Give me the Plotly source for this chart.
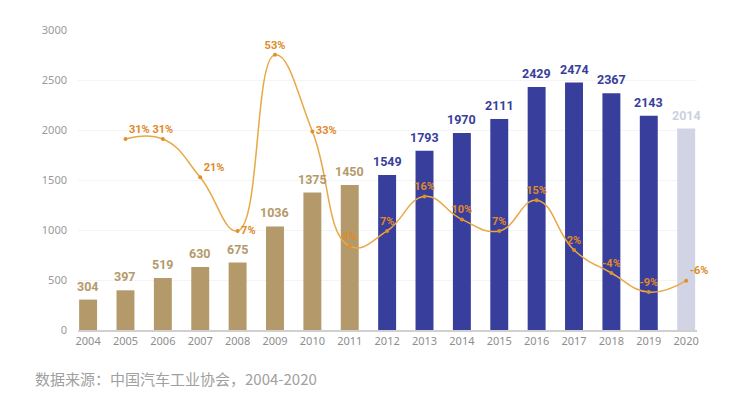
import plotly.graph_objects as go

years = [str(y) for y in range(2004, 2021)]
sales = [304, 397, 519, 630, 675, 1036, 1375, 1450, 1549, 1793, 1970, 2111, 2429, 2474, 2367, 2143, 2014]
bar_colors = ["#B49A6A"] * 8 + ["#383E9B"] * 8 + ["#D2D4E5"]
label_colors = ["#B49A6A"] * 8 + ["#383E9B"] * 8 + ["#CDD0DF"]

growth_years = [str(y) for y in range(2005, 2021)]
growth = [31, 31, 21, 7, 53, 33, 3, 7, 16, 10, 7, 15, 2, -4, -9, -6]
growth_labels = ["31%", "31%", "21%", "7%", "53%", "33%", "3%", "7%", "16%", "10%", "7%", "15%", "2%", "-4%", "-9%", "-6%"]
growth_pos = ["top right", "top center", "top right", "middle right", "top center", "middle right",
              "top center", "top center", "top center", "top center", "top center", "top center",
              "top center", "top center", "top center", "top right"]

num_font = "Roboto, Liberation Sans, sans-serif"

# page has an 8px body margin; figure coordinates are offset accordingly
L, R, T, B = 70, 63, 22, 71
W, H = 752, 393
pw, ph = W - L - R, H - T - B

fig = go.Figure()
fig.add_trace(go.Bar(
    x=years, y=sales, marker=dict(color=bar_colors, line=dict(width=0)),
    width=0.48, showlegend=False,
))
fig.add_trace(go.Scatter(
    x=growth_years, y=growth, yaxis="y2", mode="lines+markers+text",
    line=dict(color="#E9A846", width=1.5, shape="spline", smoothing=1.3),
    marker=dict(size=4, color="#E0902A"),
    text=growth_labels, textposition=growth_pos,
    textfont=dict(family=num_font, size=11, color="#E0892A", weight="bold"),
    cliponaxis=False, showlegend=False,
))

annotations = [dict(
    x=i, y=v, xref="x", yref="y", text=str(v), showarrow=False,
    xanchor="center", yanchor="bottom", yshift=4,
    font=dict(family=num_font, size=12.5, color=c, weight="bold"),
) for i, (v, c) in enumerate(zip(sales, label_colors))]
annotations.append(dict(
    text="数据来源：中国汽车工业协会，2004-2020",
    x=(25 - L) / pw, y=(ph - (370 - T)) / ph, xref="paper", yref="paper",
    xanchor="left", yanchor="middle", showarrow=False,
    font=dict(family="Noto Sans CJK SC", size=15, color="#A0A0A0"),
))

fig.update_layout(
    width=W, height=H,
    margin=dict(l=L, r=R, t=T, b=B),
    paper_bgcolor="white", plot_bgcolor="white",
    font=dict(family="Noto Sans, sans-serif", color="#9A9A9A"),
    xaxis=dict(type="category", range=[-0.27, 16.29], showgrid=False, showline=True,
               linecolor="#D0D0D0", linewidth=2, ticks="", tickfont=dict(size=11, color="#8E8E8E")),
    yaxis=dict(range=[0, 3000], tickvals=[0, 500, 1000, 1500, 2000, 2500, 3000],
               showgrid=True, gridcolor="#F4F4F4", gridwidth=1, zeroline=False,
               tickfont=dict(size=11, color="#9A9A9A"), ticklabelstandoff=10),
    yaxis2=dict(overlaying="y", range=[-18.9, 59.5], visible=False),
    annotations=annotations,
)

fig.write_html("out.html")
